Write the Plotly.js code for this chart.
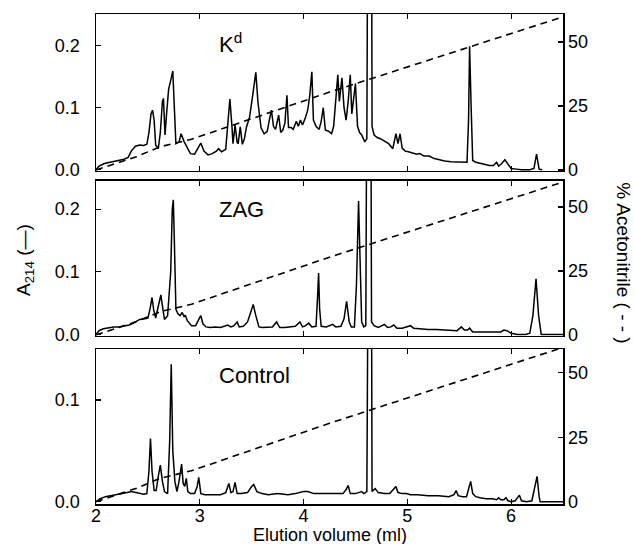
<!DOCTYPE html>
<html>
<head>
<meta charset="utf-8">
<script src="https://cdn.plot.ly/plotly-3.0.1.min.js"></script>
<style>html,body{margin:0;padding:0;background:#fff;}#chart{width:634px;height:544px;}</style>
</head>
<body>
<div id="chart"></div>
<script>
// ---- Data ----
const panelLabels = ['K<sup>d</sup>', 'ZAG', 'Control'];
const xTicks = [2, 3, 4, 5, 6];
const leftTicks = [0, 0.1, 0.2];
const leftTickText = ['0.0', '0.1', '0.2'];
const rightTicks = [0, 25, 50];

// % acetonitrile gradient (dashed)
const gradX = [2.0, 2.39, 2.62, 2.92, 4.25, 6.5];
const gradY = [0, 5.2, 9.1, 12.0, 30.4, 59.8];

// K^d panel, A214
const kdX = [2.00,2.03,2.08,2.13,2.20,2.27,2.31,2.34,2.38,2.42,2.46,2.49,2.51,2.53,2.545,2.56,2.575,2.60,2.62,2.64,2.65,2.665,2.68,2.70,2.72,2.74,2.755,2.77,2.80,2.82,2.85,2.88,2.91,2.95,2.98,3.01,3.04,3.08,3.12,3.16,3.18,3.21,3.25,3.27,3.29,3.31,3.32,3.34,3.36,3.37,3.39,3.41,3.43,3.45,3.48,3.51,3.54,3.56,3.59,3.62,3.65,3.67,3.69,3.71,3.73,3.76,3.78,3.80,3.82,3.84,3.855,3.88,3.90,3.93,3.95,3.97,3.99,4.02,4.04,4.06,4.08,4.095,4.12,4.15,4.17,4.19,4.21,4.24,4.27,4.29,4.31,4.33,4.345,4.37,4.39,4.41,4.43,4.45,4.465,4.48,4.50,4.52,4.54,4.56,4.59,4.61,4.622,4.653,4.66,4.68,4.71,4.74,4.78,4.82,4.86,4.875,4.89,4.91,4.93,4.95,4.98,5.01,5.05,5.09,5.12,5.16,5.21,5.26,5.31,5.36,5.42,5.48,5.54,5.575,5.59,5.60,5.615,5.63,5.66,5.69,5.74,5.79,5.83,5.86,5.88,5.91,5.94,5.97,6.00,6.05,6.10,6.18,6.22,6.245,6.27,6.30];
const kdY = [0.000,0.006,0.010,0.012,0.015,0.017,0.020,0.030,0.038,0.040,0.039,0.041,0.060,0.090,0.096,0.080,0.040,0.034,0.060,0.110,0.115,0.056,0.090,0.130,0.144,0.159,0.100,0.042,0.045,0.058,0.045,0.035,0.026,0.025,0.035,0.043,0.030,0.024,0.026,0.030,0.034,0.029,0.033,0.070,0.114,0.070,0.042,0.072,0.044,0.042,0.069,0.041,0.050,0.069,0.085,0.120,0.157,0.110,0.068,0.058,0.062,0.080,0.096,0.070,0.065,0.088,0.060,0.064,0.075,0.120,0.068,0.068,0.065,0.078,0.070,0.080,0.072,0.085,0.096,0.120,0.158,0.080,0.070,0.065,0.078,0.100,0.064,0.062,0.058,0.070,0.110,0.153,0.110,0.148,0.100,0.080,0.110,0.153,0.090,0.110,0.139,0.070,0.060,0.056,0.045,0.050,0.600,0.600,0.070,0.056,0.052,0.050,0.046,0.042,0.034,0.045,0.058,0.042,0.058,0.035,0.030,0.029,0.027,0.025,0.026,0.022,0.022,0.018,0.016,0.014,0.013,0.013,0.012,0.012,0.080,0.199,0.100,0.015,0.012,0.011,0.009,0.007,0.007,0.012,0.006,0.010,0.016,0.008,0.002,0.001,0.000,0.000,0.002,0.025,0.001,0.000];

// ZAG panel, A214
const zagX = [2.00,2.03,2.07,2.12,2.17,2.22,2.27,2.32,2.37,2.42,2.47,2.50,2.52,2.54,2.555,2.575,2.60,2.625,2.645,2.66,2.69,2.72,2.735,2.745,2.755,2.77,2.79,2.81,2.83,2.85,2.86,2.88,2.92,2.96,2.99,3.01,3.03,3.06,3.10,3.15,3.20,3.24,3.27,3.30,3.33,3.36,3.38,3.42,3.46,3.49,3.515,3.54,3.57,3.60,3.65,3.70,3.74,3.77,3.82,3.87,3.92,3.965,3.99,4.02,4.05,4.08,4.12,4.135,4.145,4.155,4.17,4.22,4.25,4.28,4.31,4.36,4.39,4.415,4.44,4.46,4.49,4.51,4.53,4.545,4.56,4.58,4.60,4.614,4.645,4.655,4.68,4.72,4.75,4.78,4.81,4.84,4.87,4.90,4.95,5.00,5.03,5.06,5.12,5.20,5.28,5.35,5.42,5.48,5.52,5.55,5.58,5.60,5.63,5.70,5.78,5.85,5.90,5.93,5.96,6.00,6.06,6.14,6.18,6.21,6.24,6.265,6.29,6.50];
const zagY = [0.000,0.006,0.009,0.011,0.012,0.012,0.014,0.015,0.019,0.024,0.025,0.026,0.040,0.059,0.040,0.026,0.045,0.063,0.040,0.024,0.030,0.100,0.200,0.215,0.150,0.040,0.033,0.030,0.035,0.028,0.031,0.022,0.014,0.014,0.024,0.030,0.017,0.012,0.011,0.012,0.011,0.013,0.015,0.012,0.014,0.020,0.012,0.013,0.020,0.035,0.048,0.030,0.012,0.011,0.011,0.012,0.020,0.011,0.011,0.012,0.013,0.020,0.012,0.014,0.018,0.012,0.013,0.060,0.098,0.040,0.013,0.012,0.014,0.016,0.012,0.013,0.025,0.053,0.020,0.012,0.012,0.080,0.213,0.100,0.020,0.012,0.014,0.600,0.600,0.020,0.014,0.011,0.013,0.016,0.011,0.012,0.015,0.010,0.010,0.012,0.014,0.010,0.009,0.008,0.008,0.007,0.007,0.006,0.012,0.007,0.007,0.010,0.004,0.004,0.003,0.003,0.004,0.007,0.006,0.002,0.000,0.000,0.002,0.030,0.089,0.030,0.000,0.000];

// Control panel, A214
const ctlX = [2.00,2.04,2.09,2.15,2.20,2.25,2.30,2.34,2.38,2.42,2.46,2.49,2.51,2.525,2.54,2.56,2.58,2.60,2.62,2.64,2.66,2.69,2.71,2.725,2.74,2.76,2.78,2.80,2.825,2.84,2.855,2.87,2.885,2.91,2.95,2.975,2.99,3.01,3.05,3.12,3.20,3.25,3.28,3.30,3.32,3.34,3.36,3.40,3.46,3.50,3.52,3.55,3.60,3.66,3.75,3.85,3.92,4.00,4.04,4.10,4.20,4.30,4.38,4.41,4.43,4.45,4.50,4.53,4.56,4.58,4.61,4.63,4.65,4.66,4.69,4.72,4.78,4.83,4.87,4.89,4.91,4.95,4.99,5.03,5.10,5.20,5.30,5.40,5.45,5.47,5.49,5.53,5.57,5.59,5.61,5.63,5.66,5.70,5.76,5.82,5.86,5.88,5.90,5.93,5.95,5.97,6.00,6.04,6.08,6.10,6.15,6.20,6.23,6.25,6.27,6.28,6.50];
const ctlY = [0.000,0.003,0.005,0.006,0.007,0.0075,0.009,0.010,0.009,0.008,0.0075,0.008,0.030,0.062,0.030,0.011,0.011,0.025,0.036,0.020,0.010,0.008,0.060,0.135,0.050,0.020,0.010,0.020,0.037,0.018,0.015,0.023,0.010,0.008,0.008,0.015,0.024,0.008,0.007,0.007,0.007,0.009,0.018,0.009,0.010,0.019,0.008,0.008,0.009,0.015,0.017,0.010,0.008,0.007,0.008,0.007,0.008,0.010,0.010,0.008,0.008,0.008,0.008,0.012,0.016,0.008,0.008,0.009,0.010,0.008,0.010,0.400,0.400,0.010,0.013,0.009,0.008,0.008,0.012,0.015,0.009,0.008,0.008,0.007,0.007,0.006,0.006,0.005,0.007,0.011,0.006,0.005,0.005,0.012,0.020,0.008,0.005,0.004,0.003,0.003,0.002,0.004,0.002,0.002,0.004,0.001,0.000,0.001,0.0065,0.001,0.000,0.001,0.015,0.025,0.005,0.000,0.000];

// ---- Build chart ----
const FONT = 'Liberation Sans, Arial, Helvetica, sans-serif';
const lineStyle = {color: '#000', width: 1.5};
const dashStyle = {color: '#000', width: 1.6, dash: '7px,5px'};
const NB = '\u00a0\u00a0\u00a0';

const traces = [
  {x: kdX, y: kdY, xaxis: 'x', yaxis: 'y', mode: 'lines', line: lineStyle, hoverinfo: 'skip'},
  {x: gradX, y: gradY, xaxis: 'x', yaxis: 'y2', mode: 'lines', line: dashStyle, hoverinfo: 'skip'},
  {x: zagX, y: zagY, xaxis: 'x2', yaxis: 'y3', mode: 'lines', line: lineStyle, hoverinfo: 'skip'},
  {x: gradX, y: gradY, xaxis: 'x2', yaxis: 'y4', mode: 'lines', line: dashStyle, hoverinfo: 'skip'},
  {x: ctlX, y: ctlY, xaxis: 'x3', yaxis: 'y5', mode: 'lines', line: lineStyle, hoverinfo: 'skip'},
  {x: gradX, y: gradY, xaxis: 'x3', yaxis: 'y6', mode: 'lines', line: dashStyle, hoverinfo: 'skip'}
];

function xAxis(anchor, labels) {
  return {
    anchor: anchor, domain: [0, 1], range: [2, 6.5],
    showline: true, linecolor: '#000', linewidth: 1.5, mirror: 'ticks',
    ticks: 'inside', ticklen: 5, tickwidth: 1.2, tickcolor: '#000',
    tickmode: 'array', tickvals: xTicks, showticklabels: labels,
    ticklabelposition: 'outside', ticklabelstandoff: -5,
    showgrid: false, zeroline: false,
    tickfont: {family: FONT, size: 18, color: '#000'}
  };
}
function yLeft(anchor, domain, range) {
  return {
    anchor: anchor, domain: domain, range: range,
    showline: true, linecolor: '#000', linewidth: 1.5,
    ticks: 'inside', ticklen: 5, tickwidth: 1.2, tickcolor: '#000',
    tickmode: 'array', tickvals: leftTicks, ticktext: leftTickText,
    showgrid: false, zeroline: false, ticklabelstandoff: 11,
    tickfont: {family: FONT, size: 18, color: '#000'}
  };
}
function yRight(anchor, over, range) {
  return {
    anchor: anchor, overlaying: over, side: 'right', range: range,
    showline: true, linecolor: '#000', linewidth: 1.5,
    ticks: 'inside', ticklen: 5, tickwidth: 1.2, tickcolor: '#000',
    tickmode: 'array', tickvals: rightTicks, tickprefix: NB,
    showgrid: false, zeroline: false,
    tickfont: {family: FONT, size: 18, color: '#000'}
  };
}

const d1 = [0.6796, 1.0], d2 = [0.3435, 0.6592], d3 = [0.0, 0.3163];
const TF = {family: FONT, size: 19, color: '#000'};
const PF = {family: FONT, size: 22, color: '#000'};

const layout = {
  width: 634, height: 544,
  margin: {l: 96, r: 71, t: 14, b: 40},
  paper_bgcolor: '#fff', plot_bgcolor: '#fff',
  showlegend: false,
  font: {family: FONT, color: '#000'},
  xaxis: xAxis('y', false),
  xaxis2: xAxis('y3', false),
  xaxis3: xAxis('y5', true),
  yaxis: yLeft('x', d1, [-0.002, 0.251]),
  yaxis2: yRight('x', 'y', [-0.4, 60.9]),
  yaxis3: yLeft('x2', d2, [-0.002, 0.245]),
  yaxis4: yRight('x2', 'y3', [-0.3, 60.2]),
  yaxis5: yLeft('x3', d3, [-0.0022, 0.150]),
  yaxis6: yRight('x3', 'y5', [-0.9, 59.2]),
  annotations: [
    {text: panelLabels[0], xref: 'x', yref: 'paper', x: 3.166, y: 0.941, xanchor: 'left', yanchor: 'middle', showarrow: false, font: PF},
    {text: panelLabels[1], xref: 'x2', yref: 'paper', x: 3.166, y: 0.602, xanchor: 'left', yanchor: 'middle', showarrow: false, font: PF},
    {text: panelLabels[2], xref: 'x3', yref: 'paper', x: 3.166, y: 0.263, xanchor: 'left', yanchor: 'middle', showarrow: false, font: PF},
    {text: 'Elution volume (ml)', xref: 'paper', yref: 'paper', x: 0.5, y: -0.0632, xanchor: 'center', yanchor: 'middle', showarrow: false, font: {family: FONT, size: 18, color: '#000'}},
    {text: 'A<sub>214</sub> (—)', xref: 'paper', yref: 'paper', x: -0.152, y: 0.498, xanchor: 'center', yanchor: 'middle', textangle: -90, showarrow: false, font: TF},
    {text: '% Acetonitrile ( - - )', xref: 'paper', yref: 'paper', x: 1.128, y: 0.492, xanchor: 'center', yanchor: 'middle', textangle: 90, showarrow: false, font: TF}
  ]
};

Plotly.newPlot('chart', traces, layout, {staticPlot: true, displayModeBar: false});
</script>
</body>
</html>
